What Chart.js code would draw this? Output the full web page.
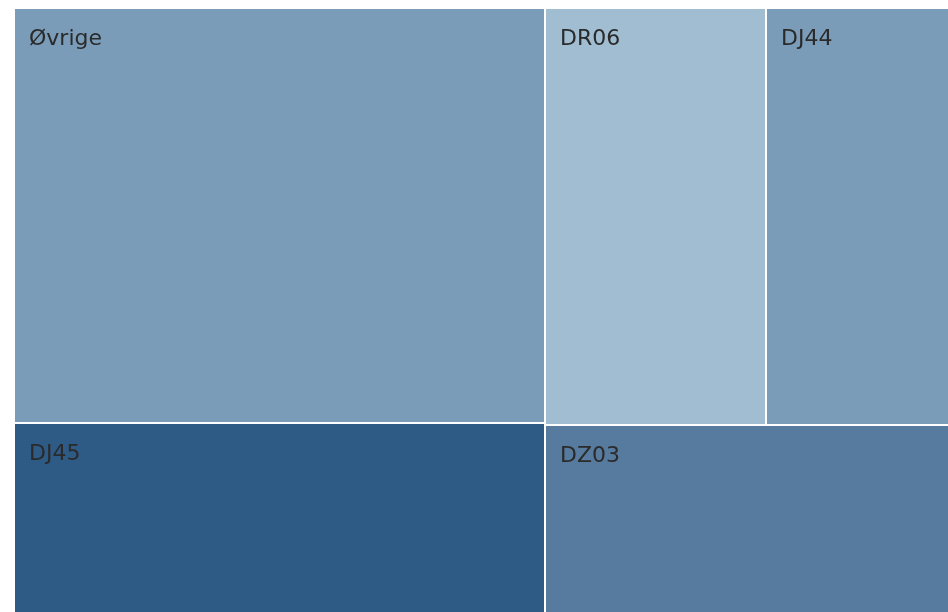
<!DOCTYPE html>
<html>
<head>
<meta charset="utf-8">
<script src="https://cdn.jsdelivr.net/npm/chart.js@4.4.1/dist/chart.umd.min.js"></script>
<style>
  html, body { margin: 0; padding: 0; background: #fff; overflow: hidden; width: 948px; height: 612px; }
  #wrap { position: absolute; left: 14px; top: 8px; width: 976px; height: 650px; }
</style>
</head>
<body>
<div id="wrap"><canvas id="chart"></canvas></div>
<script>
// TREEMAP DATA
const labels = ['Øvrige', 'DJ45', 'DR06', 'DJ44', 'DZ03'];
const values = [2204, 1248, 922, 934, 1037];
const colors = ['#7a9cb8', '#2e5a86', '#a0bdd2', '#7a9cb8', '#567b9e'];

const X_MAX = 976;
const Y_MAX = 650;

// binary tiling: split list where the running sum is closest to half,
// cut along the longer side
function binaryTiles(idx, x0, y0, x1, y1, out) {
  if (idx.length === 1) {
    out.push({ i: idx[0], x0, y0, x1, y1 });
    return;
  }
  const total = idx.reduce((s, i) => s + values[i], 0);
  let best = 1, bestDiff = Infinity, run = 0;
  for (let k = 1; k < idx.length; k++) {
    run += values[idx[k - 1]];
    const d = Math.abs(run - total / 2);
    if (d < bestDiff) { bestDiff = d; best = k; }
  }
  const left = idx.slice(0, best), right = idx.slice(best);
  const leftVal = left.reduce((s, i) => s + values[i], 0);
  if ((x1 - x0) > (y1 - y0)) {
    const xk = x0 + (x1 - x0) * leftVal / total;
    binaryTiles(left, x0, y0, xk, y1, out);
    binaryTiles(right, xk, y0, x1, y1, out);
  } else {
    const yk = y0 + (y1 - y0) * leftVal / total;
    binaryTiles(left, x0, y0, x1, yk, out);
    binaryTiles(right, x0, yk, x1, y1, out);
  }
}

const tiles = [];
binaryTiles(labels.map((_, i) => i), 0, 0, X_MAX, Y_MAX, tiles);

const treemapPlugin = {
  id: 'treemap',
  afterDatasetsDraw(chart) {
    const { ctx, scales: { x, y } } = chart;
    ctx.save();
    tiles.forEach(t => {
      const px0 = Math.round(x.getPixelForValue(t.x0)) + 1;
      const px1 = Math.round(x.getPixelForValue(t.x1)) - 1;
      const py0 = Math.round(y.getPixelForValue(t.y0)) + 1;
      const py1 = Math.round(y.getPixelForValue(t.y1)) - 1;
      ctx.fillStyle = colors[t.i];
      ctx.fillRect(px0, py0, px1 - px0, py1 - py0);
      ctx.fillStyle = '#2a2a2a';
      ctx.font = '22px "DejaVu Sans", Verdana, sans-serif';
      ctx.textBaseline = 'alphabetic';
      ctx.fillText(labels[t.i], px0 + 14, py0 + 36);
    });
    ctx.restore();
  }
};

new Chart(document.getElementById('chart'), {
  type: 'scatter',
  data: { datasets: [{ data: [] }] },
  options: {
    responsive: true,
    maintainAspectRatio: false,
    animation: false,
    layout: { padding: 0 },
    plugins: { legend: { display: false }, tooltip: { enabled: false } },
    scales: {
      x: { type: 'linear', min: 0, max: X_MAX, display: false },
      y: { type: 'linear', min: 0, max: Y_MAX, reverse: true, display: false }
    }
  },
  plugins: [treemapPlugin]
});
</script>
</body>
</html>
